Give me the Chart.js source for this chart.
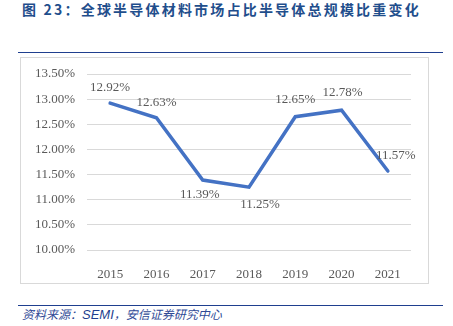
<!DOCTYPE html>
<html><head><meta charset="utf-8">
<script src="https://cdn.jsdelivr.net/npm/chart.js@4"></script>
<style>
html,body{margin:0;padding:0;background:#fff;width:453px;height:326px;overflow:hidden;position:relative;}
#title{position:absolute;left:22px;top:0px;font-family:"Noto Sans CJK SC";font-weight:bold;font-size:14px;color:#1F4E8C;letter-spacing:2.2px;white-space:nowrap;line-height:18px;}
#l1{position:absolute;left:18px;top:52px;width:425px;height:0;border-top:1.5px solid #1F3F8F;}
#box{position:absolute;left:20px;top:57px;width:407px;height:225px;border:1px solid #D9D9D9;}
#l2{position:absolute;left:18px;top:305px;width:425px;height:0;border-top:1.5px solid #1F3F8F;}
#src{position:absolute;left:22px;top:306px;font-family:"Noto Sans CJK SC";font-style:italic;font-size:12px;color:#2F4A96;white-space:nowrap;line-height:16px;}
#src b{font-family:"Liberation Sans";font-weight:normal;font-style:italic;font-size:13px;color:#1F3F8F;}
canvas{position:absolute;left:0;top:0;}
</style></head>
<body>
<div id="title">图 23：全球半导体材料市场占比半导体总规模比重变化</div>
<div id="l1"></div>
<div id="box"></div>
<div id="l2"></div>
<div id="src">资料来源：<b>SEMI</b>，安信证券研究中心</div>
<canvas id="c" width="453" height="326"></canvas>
<script>
const categories = ["2015","2016","2017","2018","2019","2020","2021"];
const shareValues = [12.92, 12.63, 11.39, 11.25, 12.65, 12.78, 11.57];
const yTicks = [10.0, 10.5, 11.0, 11.5, 12.0, 12.5, 13.0, 13.5];
// label placement: dx, dy relative to point
const labelOffsets = [[0,-16],[0,-15],[-3,14],[11,17],[0,-17],[1,-18],[8,-15]];

const labelFont = '13px "Liberation Serif", serif';

const dataLabels = {
  id:'dataLabels',
  afterDatasetsDraw(chart){
    const ctx = chart.ctx;
    const meta = chart.getDatasetMeta(0);
    ctx.save();
    ctx.font = labelFont;
    ctx.fillStyle = '#595959';
    ctx.textAlign='center';
    ctx.textBaseline='middle';
    meta.data.forEach((pt,i)=>{
      const o = labelOffsets[i];
      ctx.fillText(shareValues[i].toFixed(2)+'%', pt.x+o[0], pt.y+o[1]);
    });
    ctx.restore();
  }
};

new Chart(document.getElementById('c'),{
  type:'line',
  data:{labels:categories,datasets:[{data:shareValues,borderColor:'#4472C4',borderWidth:3.5,pointRadius:0,tension:0,fill:false,borderCapStyle:'round',borderJoinStyle:'miter'}]},
  options:{
    responsive:false,animation:false,
    layout:{padding:{left:20,right:42,top:74,bottom:46}},
    plugins:{legend:{display:false},tooltip:{enabled:false}},
    scales:{
      x:{offset:true,grid:{display:false},border:{display:false},
        ticks:{color:'#595959',font:{family:'"Liberation Serif", serif',size:13},padding:9,maxRotation:0},
        afterFit(s){s.height=30;}},
      y:{min:10,max:13.5,
        afterBuildTicks(s){s.ticks=yTicks.map(v=>({value:v}));},
        grid:{color:'#D9D9D9',lineWidth:1,drawTicks:false},border:{display:false},
        ticks:{color:'#595959',font:{family:'"Liberation Serif", serif',size:13},padding:12,callback:v=>v.toFixed(2)+'%'},
        afterFit(s){s.width=67;}}
    }
  },
  plugins:[dataLabels]
});
</script>
</body></html>
